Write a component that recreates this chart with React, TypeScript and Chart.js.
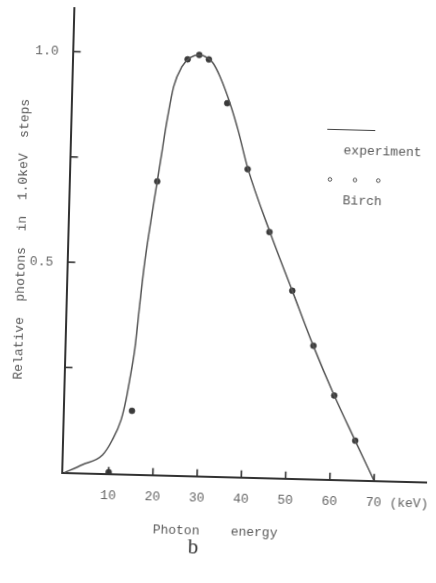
import React, { useEffect, useRef } from "react";
import { Chart, registerables } from "chart.js";

Chart.register(...registerables);

// ---- data ----
const expKeV = [0, 4, 8.5, 10.6, 12.5, 13.5, 14.2, 15.2, 16.0, 16.8, 17.7, 19.25, 20.2, 20.8, 22.4, 24.15, 26, 28, 30, 31.2, 32.8, 35.5, 37.2, 39.6, 45, 50.4, 55.5, 60.5, 65.5, 70];
const expRel = [0, 0.02, 0.0445, 0.08, 0.129, 0.177, 0.224, 0.3, 0.4, 0.494, 0.574, 0.697, 0.772, 0.82, 0.923, 0.971, 0.993, 1.0, 0.993, 0.981, 0.95, 0.879, 0.824, 0.735, 0.584, 0.446, 0.316, 0.2, 0.094, 0];

const birchKeV = [10, 14.9, 19.25, 25.4, 28.0, 30.2, 34.6, 39.6, 44.9, 50.4, 55.5, 60.5, 65.5];
const birchRel = [0.004, 0.151, 0.697, 0.989, 1.0, 0.99, 0.887, 0.732, 0.584, 0.446, 0.317, 0.2, 0.094];

const xTickValues = [10, 20, 30, 40, 50, 60, 70, 78];
const xTickLabels = ["10", "20", "30", "40", "50", "60", "70", "(keV)"];
const xTickMarks = [10, 20, 30, 40, 50, 60, 70];
const yTickValues = [0.25, 0.5, 0.75, 1.0];
const yTickLabels = ["", "0.5", "", "1.0"];

const yTitle = "Relative  photons  in  1.0keV  steps";
const xTitle = "Photon    energy";
const legendLine = "experiment";
const legendDots = "Birch";
const caption = "b";

const MONO = "'Liberation Mono', 'DejaVu Sans Mono', monospace";
const AXIS = "#333";
const TEXT = "#5a5a5a";

const decor = {
  id: "decor",
  afterDatasetsDraw(chart: any) {
    const { ctx, chartArea, scales } = chart;
    const xs = scales.x;
    const ys = scales.y;
    ctx.save();
    ctx.strokeStyle = AXIS;
    ctx.lineWidth = 1.6;
    xTickMarks.forEach((v) => {
      const px = xs.getPixelForValue(v);
      ctx.beginPath();
      ctx.moveTo(px, chartArea.bottom);
      ctx.lineTo(px, chartArea.bottom - 7);
      ctx.stroke();
    });
    yTickValues.forEach((v) => {
      const py = ys.getPixelForValue(v);
      ctx.beginPath();
      ctx.moveTo(chartArea.left, py);
      ctx.lineTo(chartArea.left + 8, py);
      ctx.stroke();
    });

    // legend
    ctx.strokeStyle = "#444";
    ctx.lineWidth = 1.2;
    ctx.beginPath();
    ctx.moveTo(323, 126.5);
    ctx.lineTo(371, 126.5);
    ctx.stroke();
    ctx.lineWidth = 1;
    ctx.strokeStyle = "#555";
    [327, 352, 375.3].forEach((cx) => {
      ctx.beginPath();
      ctx.arc(cx, 176.5, 1.8, 0, Math.PI * 2);
      ctx.stroke();
    });
    ctx.fillStyle = TEXT;
    ctx.font = `13px ${MONO}`;
    ctx.textAlign = "center";
    ctx.textBaseline = "middle";
    ctx.fillText(legendLine, 378.8, 147.4);
    ctx.fillText(legendDots, 359.8, 198);

    // x axis title
    ctx.fillText(xTitle, 221.3, 531.7);

    // caption
    ctx.fillStyle = "#333";
    ctx.font = "21px 'Liberation Serif', 'DejaVu Serif', serif";
    ctx.fillText(caption, 199.7, 548.6);
    ctx.restore();
  },
};

export default function App() {
  const ref = useRef<HTMLCanvasElement>(null);

  useEffect(() => {
    const chart = new Chart(ref.current as HTMLCanvasElement, {
      type: "scatter",
      data: {
        datasets: [
          {
            label: legendLine,
            data: expKeV.map((k, i) => ({ x: k, y: expRel[i] })),
            showLine: true,
            borderColor: "#555",
            borderWidth: 1.5,
            pointRadius: 0,
            cubicInterpolationMode: "monotone",
            fill: false,
          },
          {
            label: legendDots,
            data: birchKeV.map((k, i) => ({ x: k, y: birchRel[i] })),
            showLine: false,
            pointRadius: 3,
            pointBackgroundColor: "#3a3a3a",
            pointBorderColor: "#3a3a3a",
            pointBorderWidth: 0.5,
          },
        ],
      },
      options: {
        animation: false,
        responsive: false,
        devicePixelRatio: 1,
        layout: { padding: { left: 0, right: 0, top: 11.9, bottom: 0 } },
        plugins: { legend: { display: false }, tooltip: { enabled: false } },
        scales: {
          x: {
            type: "linear",
            min: -0.6,
            max: 81.86,
            grid: { display: false, drawTicks: false },
            border: { display: true, color: AXIS, width: 2 },
            afterBuildTicks: (scale: any) => {
              scale.ticks = xTickValues.map((v) => ({ value: v }));
            },
            afterFit: (scale: any) => {
              scale.height = 106.3;
              scale.paddingLeft = 0;
              scale.paddingRight = 0;
            },
            ticks: {
              autoSkip: false,
              maxRotation: 0,
              minRotation: 0,
              padding: 14,
              color: "#666",
              font: { family: MONO, size: 13 },
              callback: (_v: any, i: number) => xTickLabels[i],
            },
          },
          y: {
            type: "linear",
            min: 0,
            max: 1.1035,
            grid: { display: false, drawTicks: false },
            border: { display: true, color: AXIS, width: 2 },
            afterBuildTicks: (scale: any) => {
              scale.ticks = yTickValues.map((v) => ({ value: v }));
            },
            afterFit: (scale: any) => {
              scale.width = 66.5;
              scale.paddingTop = 0;
              scale.paddingBottom = 0;
            },
            ticks: {
              autoSkip: false,
              padding: 14,
              color: "#666",
              font: { family: MONO, size: 13 },
              callback: (_v: any, i: number) => yTickLabels[i],
            },
            title: {
              display: true,
              text: yTitle,
              color: TEXT,
              font: { family: MONO, size: 13 },
              padding: { top: 12.4, bottom: 0 },
            },
          },
        },
      },
      plugins: [decor],
    } as any);
    return () => chart.destroy();
  }, []);

  return (
    <div
      style={{
        position: "fixed",
        left: 0,
        top: 0,
        width: 436,
        height: 583,
        overflow: "hidden",
        background: "#fff",
      }}
    >
      <canvas
        ref={ref}
        width={436}
        height={583}
        style={{
          width: 436,
          height: 583,
          display: "block",
          transform: "rotate(1.5deg)",
          transformOrigin: "218px 291.5px",
        }}
      />
    </div>
  );
}
